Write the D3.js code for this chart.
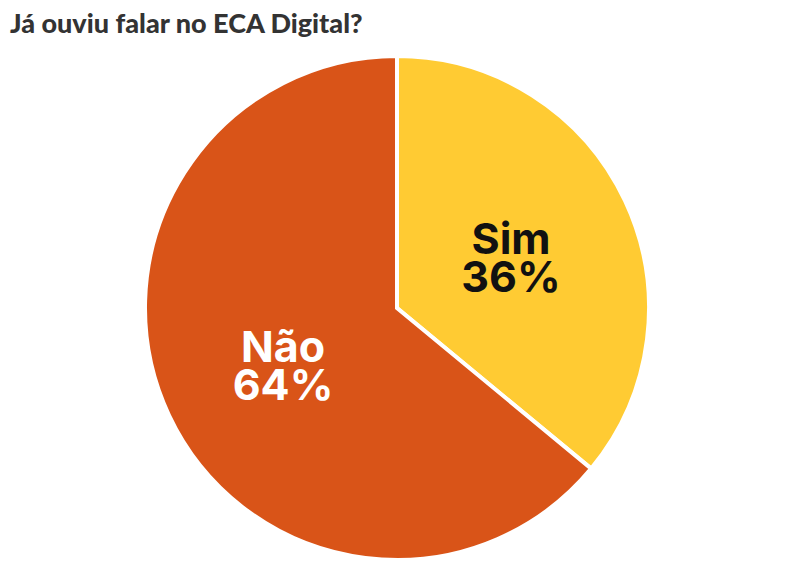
<!DOCTYPE html>
<html>
<head>
<meta charset="utf-8">
<script src="https://cdn.jsdelivr.net/npm/d3@7"></script>
<style>
  body { margin: 0; background: #fff; }
  svg { display: block; }
</style>
</head>
<body>
<div id="chart"></div>
<script>
// Chart data
const categories = ["Sim", "Não"];
const values = [36, 64];
const colors = ["#FFCB33", "#D95418"];
const labelColors = ["#111111", "#FFFFFF"];

const width = 794;
const height = 575;

// Pie geometry
const cx = 397;
const cy = 308;
const radius = 252;

const svg = d3.select("#chart").append("svg")
    .attr("width", width)
    .attr("height", height);

// Title
svg.append("text")
    .attr("x", 10)
    .attr("y", 33)
    .attr("font-family", "Lato, 'Open Sans', sans-serif")
    .attr("font-weight", 900)
    .attr("font-size", 27)
    .attr("fill", "#333333")
    .text("Já ouviu falar no ECA Digital?");

const data = categories.map((c, i) => ({ name: c, value: values[i] }));

const pie = d3.pie().sort(null).value(d => d.value);
const arc = d3.arc().innerRadius(0).outerRadius(radius);

const g = svg.append("g").attr("transform", `translate(${cx}, ${cy})`);

const slices = g.selectAll("g.slice")
    .data(pie(data))
    .join("g")
    .attr("class", "slice");

slices.append("path")
    .attr("d", arc)
    .attr("fill", (d, i) => colors[i])
    .attr("stroke", "#fff")
    .attr("stroke-width", 4)
    .attr("stroke-linejoin", "miter");

// Labels at the centroid of each slice, one text per line
const labelPos = d => {
    const c = arc.centroid(d);
    return `translate(${c[0]}, ${c[1]})`;
};

[
    { dy: 0, fmt: d => d.data.name },
    { dy: 38, fmt: d => d.data.value + "%" }
].forEach(line => {
    slices.append("text")
        .attr("transform", labelPos)
        .attr("y", line.dy)
        .attr("text-anchor", "middle")
        .attr("font-family", "Inter, Roboto, sans-serif")
        .attr("font-weight", 700)
        .attr("font-size", 43)
        .attr("fill", (d, i) => labelColors[i])
        .text(line.fmt);
});
</script>
</body>
</html>
